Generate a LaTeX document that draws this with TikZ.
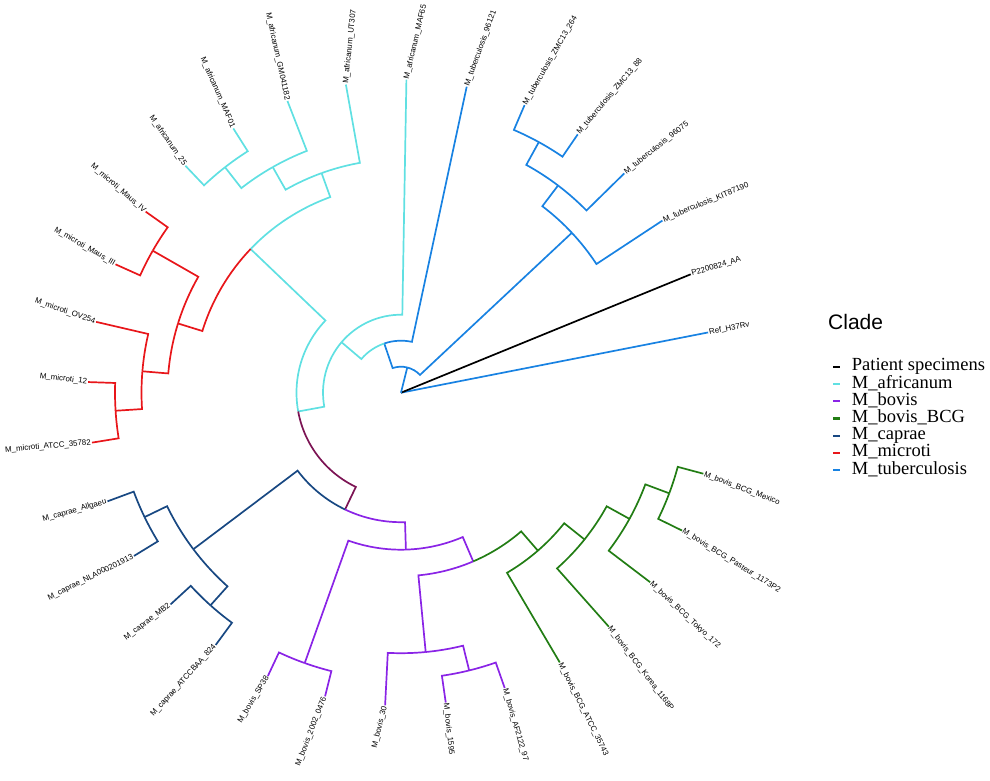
\documentclass[tikz,border=0pt]{standalone}
\usepackage{fontspec}
\setmainfont{Liberation Serif}
\setsansfont{Liberation Sans}
\usepackage{tikz}
\usetikzlibrary{calc, positioning}
\definecolor{azultb}{RGB}{24,130,226}
\definecolor{cianaf}{RGB}{96,224,226}
\definecolor{moradobo}{RGB}{138,36,230}
\definecolor{verdebcg}{RGB}{34,125,20}
\definecolor{azulca}{RGB}{24,72,130}
\definecolor{rojomi}{RGB}{232,22,26}
\definecolor{granate}{RGB}{124,20,84}
\tikzset{
	x=1pt, y=1pt, % Un punto por cada pixel de la figura
	rama/.style={to path={
		let \p1=(\tikztostart), \p2=(\tikztotarget),
		\n1={atan2(\y1,\x1)}, \n2={atan2(\y2,\x2)}, \n3={veclen(\x1,\y1)} in
		arc[start angle=\n1, delta angle={atan2(sin((\n2)-(\n1)),cos((\n2)-(\n1)))}, radius=\n3]
		-- (\tikztotarget)}}, % Arco al radio del padre y luego tramo radial
	tuber/.style={draw=azultb, line width=1.7pt},
	africa/.style={draw=cianaf, line width=1.7pt},
	bovis/.style={draw=moradobo, line width=1.7pt},
	bcg/.style={draw=verdebcg, line width=1.7pt},
	caprae/.style={draw=azulca, line width=1.7pt},
	micro/.style={draw=rojomi, line width=1.7pt},
	paciente/.style={draw=black, line width=1.7pt},
	comun/.style={draw=granate, line width=1.7pt}, % Rama sin clado propio
	hojad/.style={font=\sffamily\fontsize{7.9}{9}\selectfont, inner sep=1pt, anchor=west}, % Etiqueta hacia fuera
	hojai/.style={font=\sffamily\fontsize{7.9}{9}\selectfont, inner sep=1pt, anchor=east}, % Etiqueta girada
	titulo/.style={font=\sffamily\fontsize{21}{24}\selectfont, inner sep=0pt},
	leyenda/.style={font=\fontsize{18.5}{20}\selectfont, inner sep=0pt},
	clave/.style={line width=2.2pt}
}

\begin{document}
\begin{tikzpicture}
	\useasboundingbox (-401,-388.3) rectangle (589,392.7);
	% nodos internos
	\coordinate (raiz) at (0,0);
	\coordinate (n1) at (75.94:26);
	\coordinate (n2) at (108.78:52);
	\coordinate (n3) at (139.68:78);
	\coordinate (n4) at (190.36:104.5);
	\coordinate (nt0) at (43.10:234);
	\coordinate (nt1) at (52.84:260);
	\coordinate (nt2) at (61.19:286);
	\coordinate (nam) at (136.31:208);
	\coordinate (naf0) at (109.88:233.5);
	\coordinate (naf1) at (119.62:259.5);
	\coordinate (naf2) at (127.97:286);
	\coordinate (nmi0) at (162.75:233.5);
	\coordinate (nmi1) at (150.23:286);
	\coordinate (nmi2) at (175.27:259.5);
	\coordinate (nmi3) at (183.62:286);
	\coordinate (nbc) at (244.40:129.5);
	\coordinate (nca0) at (217.01:260);
	\coordinate (nca1) at (205.88:285);
	\coordinate (nca2) at (228.14:285.5);
	\coordinate (nbo0) at (271.79:157);
	\coordinate (nbo1) at (250.40:287);
	\coordinate (nbo2) at (293.18:183.5);
	\coordinate (nbo3) at (275.44:260.5);
	\coordinate (nbo4) at (283.79:286);
	\coordinate (nbcg0) at (310.91:209);
	\coordinate (nbcg1) at (321.35:235);
	\coordinate (nbcg2) at (331.09:261);
	\coordinate (nbcg3) at (339.44:286.5);
	% hojas
	\node[hojad, rotate=10.9] (ref) at (11.10:313) {Ref\_H37Rv};
	\node[hojad, rotate=16.5] (pac) at (22.23:313) {P2200824\_AA};
	\node[hojad, rotate=22.5] (tb5) at (33.36:313) {M\_tuberculosis\_KIT87190};
	\node[hojad, rotate=38.2] (tb4) at (44.49:313) {M\_tuberculosis\_96075};
	\node[hojad, rotate=49.8] (tb3) at (55.62:313) {M\_tuberculosis\_ZMC13\_88};
	\node[hojad, rotate=60.1] (tb2) at (66.75:313) {M\_tuberculosis\_ZMC13\_264};
	\node[hojad, rotate=70] (tb1) at (77.88:313) {M\_tuberculosis\_96121};
	\node[hojad, rotate=76.5] (af1) at (89.01:313) {M\_africanum\_MAF65};
	\node[hojad, rotate=84] (af2) at (100.14:313) {M\_africanum\_UT307};
	\node[hojai, rotate=-77.6] (af3) at (111.27:313) {M\_africanum\_GM041182};
	\node[hojai, rotate=-66.4] (af4) at (122.40:313) {M\_africanum\_MAF01};
	\node[hojai, rotate=-55] (af5) at (133.53:313) {M\_africanum\_25};
	\node[hojai, rotate=-40.8] (mi1) at (144.66:313) {M\_microti\_Maus\_IV};
	\node[hojai, rotate=-30] (mi2) at (155.79:313) {M\_microti\_Maus\_III};
	\node[hojai, rotate=-19] (mi3) at (166.92:313) {M\_microti\_OV254};
	\node[hojai, rotate=-7.2] (mi4) at (178.05:313) {M\_microti\_12};
	\node[hojai, rotate=4.9] (mi5) at (189.18:313) {M\_microti\_ATCC\_35782};
	\node[hojai, rotate=15.8] (ca1) at (200.31:313) {M\_caprae\_Allgaeu};
	\node[hojai, rotate=26.6] (ca2) at (211.44:313) {M\_caprae\_NLA000201913};
	\node[hojai, rotate=37.4] (ca3) at (222.57:313) {M\_caprae\_MB2};
	\node[hojai, rotate=48.1] (ca4) at (233.70:313) {M\_caprae\_ATCCBAA\_824};
	\node[hojai, rotate=58.8] (bo1) at (244.83:313) {M\_bovis\_SP38};
	\node[hojai, rotate=68.7] (bo2) at (255.96:313) {M\_bovis\_2002\_0476};
	\node[hojai, rotate=76] (bo3) at (267.09:313) {M\_bovis\_30};
	\node[hojad, rotate=-83.7] (bo4) at (278.22:313) {M\_bovis\_1595};
	\node[hojad, rotate=-73.8] (bo5) at (289.35:313) {M\_bovis\_AF2122\_97};
	\node[hojad, rotate=-63.4] (bcg1) at (300.48:313) {M\_bovis\_BCG\_ATCC\_35743};
	\node[hojad, rotate=-52.7] (bcg2) at (311.61:313) {M\_bovis\_BCG\_Korea\_1168P};
	\node[hojad, rotate=-43.2] (bcg3) at (322.74:313) {M\_bovis\_BCG\_Tokyo\_172};
	\node[hojad, rotate=-31.6] (bcg4) at (333.87:313) {M\_bovis\_BCG\_Pasteur\_1173P2};
	\node[hojad, rotate=-21.1] (bcg5) at (345.00:313) {M\_bovis\_BCG\_Mexico};
	% ramas
	\draw	(raiz) edge[tuber] (ref.west)
			(raiz) edge[paciente] (pac.west)
			(raiz) edge[tuber] (n1)
			(n1) edge[tuber, rama] (nt0)
			(n1) edge[tuber, rama] (n2)
			(nt0) edge[tuber, rama] (tb5.west)
			(nt0) edge[tuber, rama] (nt1)
			(nt1) edge[tuber, rama] (tb4.west)
			(nt1) edge[tuber, rama] (nt2)
			(nt2) edge[tuber, rama] (tb3.west)
			(nt2) edge[tuber, rama] (tb2.west)
			(n2) edge[tuber, rama] (tb1.west)
			(n2) edge[africa, rama] (n3)
			(n3) edge[africa, rama] (af1.west)
			(n3) edge[africa, rama] (n4)
			(n4) edge[africa, rama] (nam)
			(n4) edge[comun, rama] (nbc)
			(nam) edge[africa, rama] (naf0)
			(nam) edge[micro, rama] (nmi0)
			(naf0) edge[africa, rama] (af2.west)
			(naf0) edge[africa, rama] (naf1)
			(naf1) edge[africa, rama] (af3.east)
			(naf1) edge[africa, rama] (naf2)
			(naf2) edge[africa, rama] (af4.east)
			(naf2) edge[africa, rama] (af5.east)
			(nmi0) edge[micro, rama] (nmi1)
			(nmi0) edge[micro, rama] (nmi2)
			(nmi1) edge[micro, rama] (mi1.east)
			(nmi1) edge[micro, rama] (mi2.east)
			(nmi2) edge[micro, rama] (mi3.east)
			(nmi2) edge[micro, rama] (nmi3)
			(nmi3) edge[micro, rama] (mi4.east)
			(nmi3) edge[micro, rama] (mi5.east)
			(nbc) edge[caprae, rama] (nca0)
			(nbc) edge[bovis, rama] (nbo0)
			(nca0) edge[caprae, rama] (nca1)
			(nca0) edge[caprae, rama] (nca2)
			(nca1) edge[caprae, rama] (ca1.east)
			(nca1) edge[caprae, rama] (ca2.east)
			(nca2) edge[caprae, rama] (ca3.east)
			(nca2) edge[caprae, rama] (ca4.east)
			(nbo0) edge[bovis, rama] (nbo1)
			(nbo0) edge[bovis, rama] (nbo2)
			(nbo1) edge[bovis, rama] (bo1.east)
			(nbo1) edge[bovis, rama] (bo2.east)
			(nbo2) edge[bovis, rama] (nbo3)
			(nbo2) edge[bcg, rama] (nbcg0)
			(nbo3) edge[bovis, rama] (bo3.east)
			(nbo3) edge[bovis, rama] (nbo4)
			(nbo4) edge[bovis, rama] (bo4.west)
			(nbo4) edge[bovis, rama] (bo5.west)
			(nbcg0) edge[bcg, rama] (bcg1.west)
			(nbcg0) edge[bcg, rama] (nbcg1)
			(nbcg1) edge[bcg, rama] (bcg2.west)
			(nbcg1) edge[bcg, rama] (nbcg2)
			(nbcg2) edge[bcg, rama] (bcg3.west)
			(nbcg2) edge[bcg, rama] (nbcg3)
			(nbcg3) edge[bcg, rama] (bcg4.west)
			(nbcg3) edge[bcg, rama] (bcg5.west)
			;
	% leyenda
	\node[titulo, anchor=base west] (clade) at (427,63.4) {Clade};
	\node[leyenda, anchor=base west] (lpac) at (450.7,21.7) {Patient specimens};
	\node[leyenda, below=17.2pt of lpac.base west, anchor=base west] (laf) {M\_africanum};
	\node[leyenda, below=17.2pt of laf.base west, anchor=base west] (lbo) {M\_bovis};
	\node[leyenda, below=17.2pt of lbo.base west, anchor=base west] (lbcg) {M\_bovis\_BCG};
	\node[leyenda, below=17.2pt of lbcg.base west, anchor=base west] (lca) {M\_caprae};
	\node[leyenda, below=17.2pt of lca.base west, anchor=base west] (lmi) {M\_microti};
	\node[leyenda, below=17.2pt of lmi.base west, anchor=base west] (ltb) {M\_tuberculosis};
	\draw[paciente, clave] ([shift={(-18.7,4)}]lpac.base west) -- ++(6.7,0);
	\draw[africa, clave] ([shift={(-18.7,4)}]laf.base west) -- ++(6.7,0);
	\draw[bovis, clave] ([shift={(-18.7,4)}]lbo.base west) -- ++(6.7,0);
	\draw[bcg, clave] ([shift={(-18.7,4)}]lbcg.base west) -- ++(6.7,0);
	\draw[caprae, clave] ([shift={(-18.7,4)}]lca.base west) -- ++(6.7,0);
	\draw[micro, clave] ([shift={(-18.7,4)}]lmi.base west) -- ++(6.7,0);
	\draw[tuber, clave] ([shift={(-18.7,4)}]ltb.base west) -- ++(6.7,0);
\end{tikzpicture}
\end{document}
